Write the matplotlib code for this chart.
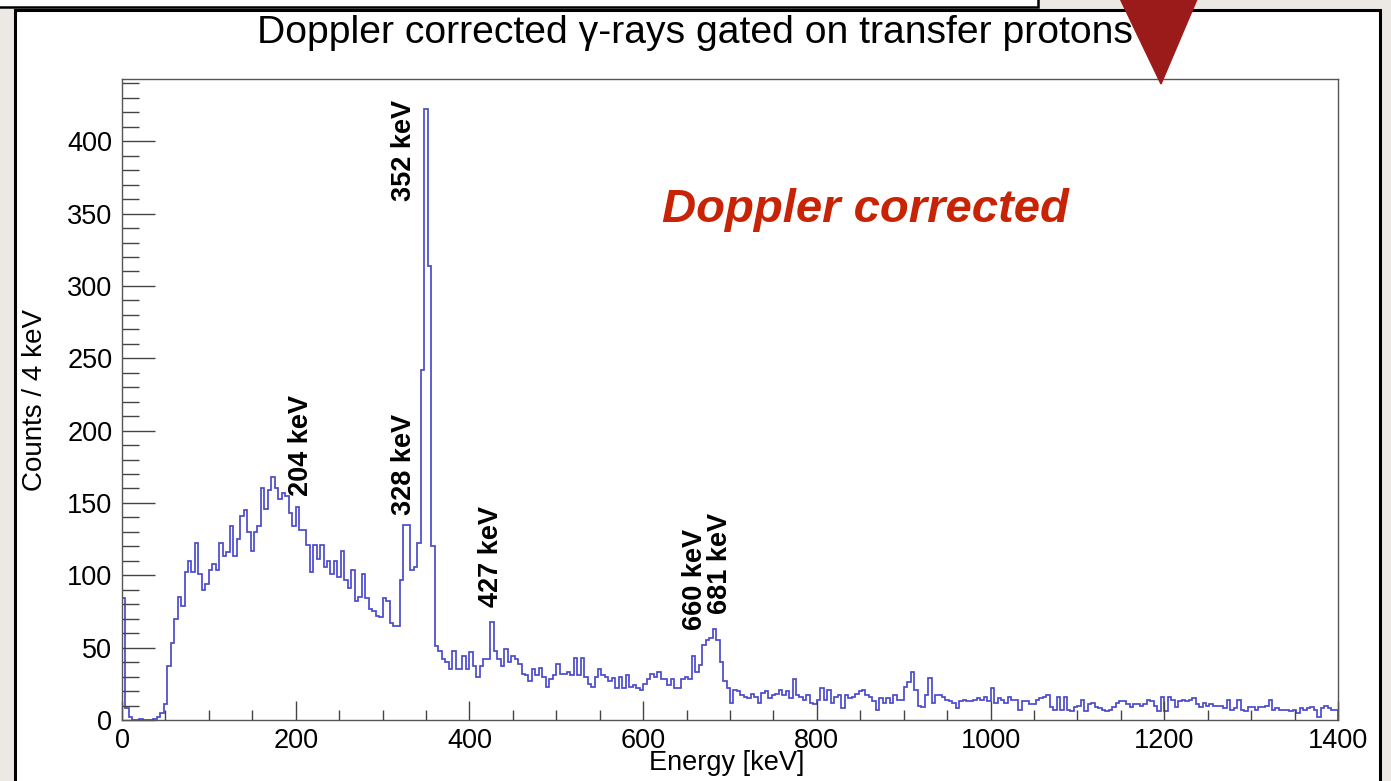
import numpy as np
import matplotlib.pyplot as plt
from matplotlib.patches import Rectangle, Polygon
from matplotlib.ticker import MultipleLocator

plt.rcParams['font.family'] = ['Liberation Sans', 'DejaVu Sans']

# histogram contents, 4 keV bins from 0 to 1400 keV
bin_width = 4

counts_0_400 = [
    84, 8, 2, 0, 0, 1, 0, 0, 0, 1,
    2, 5, 11, 37, 53, 70, 85, 79, 102, 110,
    102, 122, 101, 90, 94, 104, 108, 104, 122, 113,
    116, 134, 113, 125, 141, 145, 130, 117, 130, 134,
    160, 146, 159, 168, 160, 153, 157, 155, 143, 134,
    147, 131, 131, 121, 102, 121, 111, 121, 106, 110,
    101, 110, 99, 117, 97, 91, 104, 82, 85, 101,
    84, 77, 75, 72, 71, 84, 82, 67, 65, 65,
    97, 135, 135, 104, 106, 122, 242, 422, 314, 120,
    51, 48, 42, 40, 35, 48, 35, 35, 44, 35,
]

counts_400_800 = [
    47, 37, 30, 37, 42, 42, 68, 48, 42, 37,
    49, 40, 44, 42, 39, 32, 31, 27, 35, 31,
    36, 30, 23, 28, 31, 39, 32, 32, 33, 31,
    43, 31, 43, 30, 25, 23, 30, 35, 31, 30,
    27, 29, 22, 30, 22, 31, 23, 24, 22, 21,
    25, 28, 32, 30, 33, 28, 28, 24, 28, 22,
    22, 28, 30, 28, 44, 33, 38, 52, 55, 57,
    63, 55, 40, 27, 22, 12, 21, 20, 17, 16,
    15, 18, 16, 12, 19, 20, 15, 17, 18, 21,
    17, 20, 15, 28, 17, 16, 14, 17, 12, 11,
]

counts_800_1400 = [
    14, 22, 14, 21, 12, 16, 17, 8, 17, 15,
    16, 18, 20, 21, 17, 16, 13, 7, 15, 12,
    15, 12, 17, 14, 14, 23, 26, 33, 21, 10,
    9, 17, 29, 12, 17, 17, 16, 14, 13, 12,
    8, 13, 14, 13, 13, 14, 15, 14, 16, 13,
    22, 12, 15, 14, 12, 16, 14, 14, 7, 13,
    13, 11, 11, 14, 15, 16, 17, 9, 7, 16,
    7, 16, 7, 6, 9, 10, 14, 6, 11, 12,
    9, 8, 7, 6, 7, 9, 12, 13, 13, 11,
    9, 11, 11, 10, 11, 14, 13, 10, 6, 16,
    6, 16, 14, 9, 13, 14, 13, 14, 15, 11,
    9, 12, 10, 11, 10, 10, 10, 8, 14, 7,
    8, 14, 7, 6, 9, 9, 7, 9, 9, 10,
    14, 7, 8, 7, 7, 7, 6, 7, 5, 8,
    7, 8, 9, 7, 2, 8, 10, 8, 7, 7,
]

peak_labels = ['204 keV', '328 keV', '352 keV', '427 keV', '660 keV', '681 keV']
label_pos = [(206, 155), (325, 142), (325, 359), (425, 78), (660, 62), (689, 73)]

counts = np.array(counts_0_400 + counts_400_800 + counts_800_1400)
edges = np.arange(0, 1400 + bin_width, bin_width)
assert len(counts) == len(edges) - 1

W, H = 1391, 781
fig = plt.figure(figsize=(W / 100, H / 100), dpi=100)
fig.patch.set_facecolor('#ece9e4')

# slide boxes around the plot
fig.add_artist(Rectangle((-0.01, 1 - 7 / H), 1052 / W, 0.05, transform=fig.transFigure,
                         facecolor='white', edgecolor='black', lw=1.8, zorder=-2))
fig.add_artist(Rectangle((15 / W, -0.05), 1365 / W, 1.05 - 10 / H, transform=fig.transFigure,
                         facecolor='white', edgecolor='black', lw=2.2, zorder=-2))
fig.add_artist(Polygon([(1117 / W, 1.01), (1200 / W, 1.01), (1161 / W, 1 - 84 / H)],
                       closed=True, transform=fig.transFigure, color='#9b1b1b', zorder=5))

ax = fig.add_axes([122 / W, 1 - 720 / H, 1216 / W, 641 / H])
ax.stairs(counts, edges, baseline=0, color='#4b4bcc', lw=1.25)

ax.set_xlim(0, 1400)
ax.set_ylim(0, 443)
ax.xaxis.set_major_locator(MultipleLocator(200))
ax.xaxis.set_minor_locator(MultipleLocator(50))
ax.yaxis.set_major_locator(MultipleLocator(50))
ax.yaxis.set_minor_locator(MultipleLocator(10))
ax.tick_params(which='both', direction='in', color='#444444', width=1, labelsize=19.5)
ax.tick_params(axis='x', which='major', length=13.5, pad=6)
ax.tick_params(axis='x', which='minor', length=7)
ax.tick_params(axis='y', which='major', length=24, pad=7)
ax.tick_params(axis='y', which='minor', length=12)
for sp in ax.spines.values():
    sp.set_color('#555555')
    sp.set_linewidth(1)

for lab, (x, y) in zip(peak_labels, label_pos):
    ax.text(x, y, lab, rotation=90, ha='center', va='bottom', fontsize=19.5, fontweight='bold')

fig.text(695 / W, 1 - 43 / H, 'Doppler corrected \u03b3-rays gated on transfer protons',
         ha='center', va='baseline', fontsize=28.2)
fig.text(662 / W, 1 - 222 / H, 'Doppler corrected', color='#c82305', fontsize=34,
         fontweight='bold', fontstyle='italic', ha='left', va='baseline')
fig.text(727 / W, 1 - 763 / H, 'Energy [keV]', ha='center', va='center', fontsize=19.5)
fig.text(35 / W, 1 - 400 / H, 'Counts / 4 keV', rotation=90, ha='center', va='center', fontsize=20)

plt.savefig('out.png', dpi=100, facecolor=fig.get_facecolor())
